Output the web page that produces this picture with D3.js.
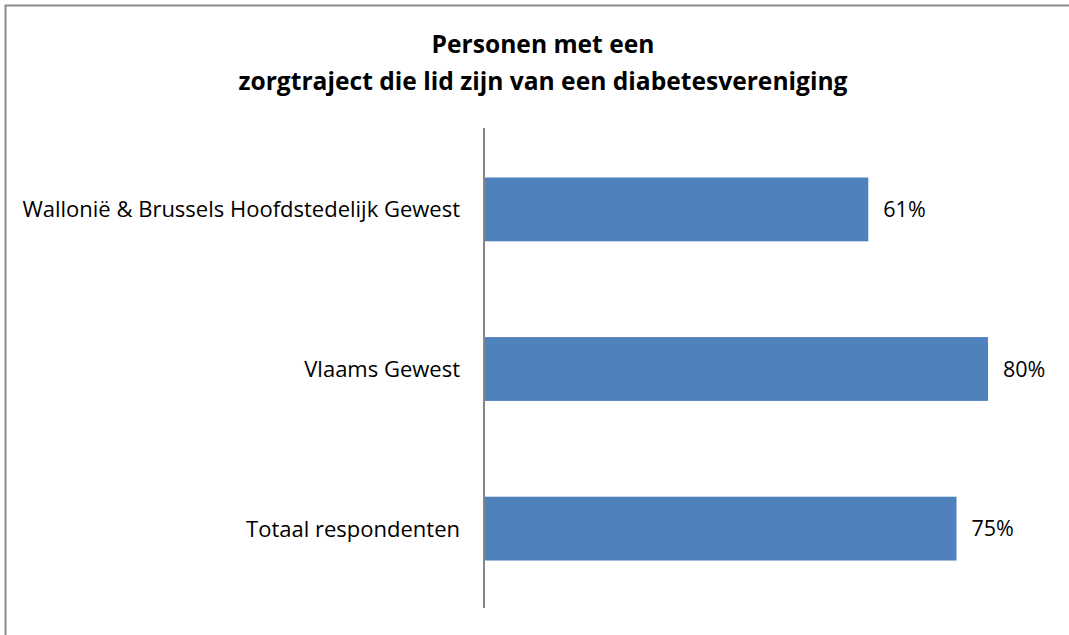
<!DOCTYPE html>
<html>
<head>
<meta charset="utf-8">
<script src="https://cdn.jsdelivr.net/npm/d3@7"></script>
<style>
  html, body { margin: 0; padding: 0; background: #fff; }
  svg { display: block; }
  text { font-family: "Open Sans", Lato, "Liberation Sans", sans-serif; fill: #000; }
</style>
</head>
<body>
<svg id="chart" width="1069" height="635"></svg>
<script>
const categories = ["Wallonië & Brussels Hoofdstedelijk Gewest", "Vlaams Gewest", "Totaal respondenten"];
const values = [0.61, 0.80, 0.75];
const valueLabels = ["61%", "80%", "75%"];
const titleLines = ["Personen met een", "zorgtraject die lid zijn van een diabetesvereniging"];

const svg = d3.select("#chart");
const W = 1069, H = 635;
const FONT = "'Open Sans', Lato, 'Liberation Sans', sans-serif";

// outer border (extends beyond the visible area on right and bottom)
svg.append("rect")
  .attr("x", 5.5).attr("y", 5.5)
  .attr("width", W + 10).attr("height", H + 10)
  .attr("fill", "#fff").attr("stroke", "#8c8c8c").attr("stroke-width", 2);

const axisX = 484;
const x = d3.scaleLinear().domain([0, 1]).range([axisX, axisX + 630]);
const y = d3.scaleBand().domain(categories).range([128, 610]).paddingInner(0.6).paddingOuter(0.31);

// title
svg.append("g").selectAll("text").data(titleLines).join("text")
  .attr("x", 543)
  .attr("y", (d, i) => 53 + i * 37)
  .attr("text-anchor", "middle")
  .attr("font-size", 24.6)
  .attr("font-weight", "bold")
  .text(d => d);

// bars
svg.append("g").selectAll("rect").data(values).join("rect")
  .attr("x", x(0))
  .attr("y", (d, i) => y(categories[i]))
  .attr("width", d => x(d) - x(0))
  .attr("height", y.bandwidth())
  .attr("fill", "#4f81bd");

// value labels
svg.append("g").selectAll("text").data(values).join("text")
  .attr("x", d => x(d) + 15)
  .attr("y", (d, i) => y(categories[i]) + y.bandwidth() / 2)
  .attr("dy", "0.36em")
  .attr("font-size", 21.5)
  .text((d, i) => valueLabels[i]);

// category axis
const axis = d3.axisLeft(y).tickSize(0).tickPadding(24);
const gAxis = svg.append("g").attr("transform", `translate(${axisX},0)`).call(axis);
gAxis.select(".domain").attr("stroke", "#868686").attr("stroke-width", 2)
  .attr("d", `M0,128V608`);
gAxis.selectAll("text")
  .attr("font-size", 22)
  .attr("dy", "0.36em")
  .style("font-family", FONT)
  .attr("fill", "#000");
</script>
</body>
</html>
